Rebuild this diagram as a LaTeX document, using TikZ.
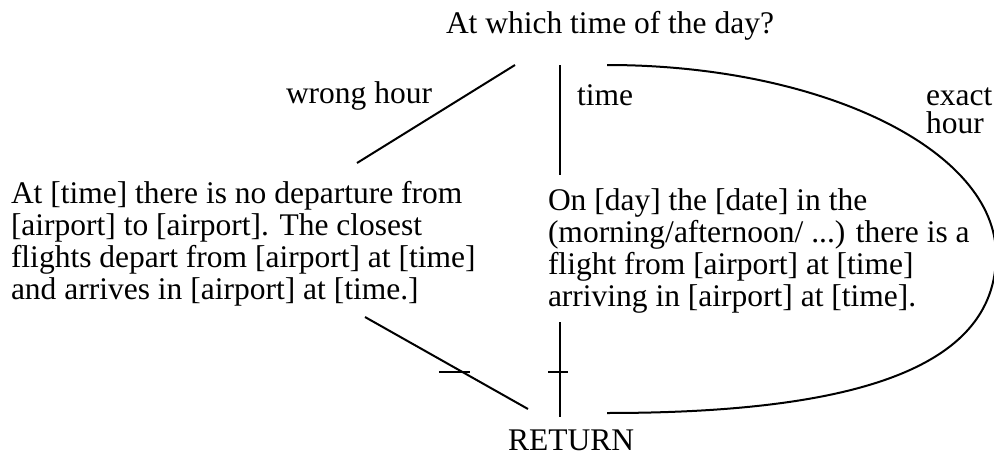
\documentclass[tikz,border=0pt]{standalone}
\usepackage{fontspec}
\setmainfont{Liberation Serif}
\begin{document}
\begin{tikzpicture}[x=1pt,y=-1pt,
  txt/.style={inner sep=0pt, outer sep=0pt, font=\fontsize{31.5}{32}\selectfont},
  block/.style={txt, align=left, anchor=north west},
  lab/.style={txt, anchor=base west},
  link/.style={line width=2pt},
  tick/.style={line width=2pt}]
\useasboundingbox (0,0) rectangle (994,455);

% question, answers and the return point
\node[lab] (ask) at (446,33) {At which time of the day?};
\node[block] (nodep) at (11,181.5) {At [time] there is no departure from\\{[}airport] to [airport]. The closest\\flights depart from [airport] at [time]\\and arrives in [airport] at [time.]};
\node[block] (dep) at (548,188.5) {On [day] the [date] in the\\(morning/afternoon/ ...) there is a\\flight from [airport] at [time]\\arriving in [airport] at [time].};
\node[lab] (ret) at (508,450) {RETURN};

% ports where the connectors meet the texts
\coordinate (askW) at (515,65);
\coordinate (askS) at (560,65);
\coordinate (askE) at (607,65);
\coordinate (nodepN) at (357,163);
\coordinate (depN) at (560,175);
\coordinate (nodepS) at (365,317);
\coordinate (depS) at (560,322);
\coordinate (retW) at (528,409);
\coordinate (retN) at (560,417);
\coordinate (retE) at (607,413);

% branches out of the question
\draw[link] (askW) -- node[lab, midway, xshift=-150pt, yshift=11pt] {wrong hour} (nodepN);
\draw[link] (askS) -- node[lab, midway, xshift=17pt, yshift=15pt] {time} (depN);
\draw[link] (askE) .. controls (822,65) and (996,150) .. (996,255)
                   .. controls (996,370) and (850,413) .. (retE);
\node[txt, align=left, anchor=north west, font=\fontsize{31.5}{28}\selectfont] (exact) at (926,88) {exact\\hour};

% branches into RETURN, each crossed by a tick
\draw[link] (nodepS) -- coordinate[pos=0.593] (tk1) (retW);
\draw[tick] ([xshift=-22.7pt]tk1) -- ([xshift=8.3pt]tk1);
\draw[link] (depS) -- coordinate[pos=0.526] (tk2) (retN);
\draw[tick] ([xshift=-11.7pt]tk2) -- ([xshift=8.3pt]tk2);
\end{tikzpicture}
\end{document}
